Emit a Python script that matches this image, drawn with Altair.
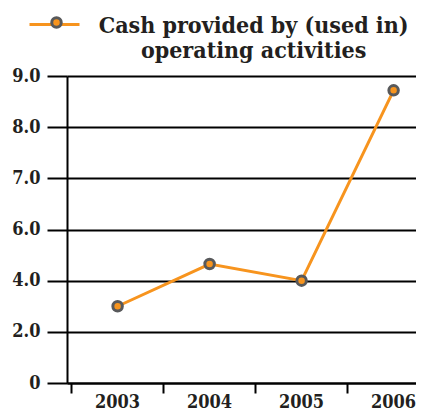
import altair as alt
import pandas as pd

years = ["2003", "2004", "2005", "2006"]
values = [3.0, 4.65, 4.0, 8.72]
series_name = "Cash provided by (used in) operating activities"
y_ticks = [0, 2, 4, 6, 7, 8, 9]

df = pd.DataFrame({"year": years, "value": values,
                   "series": [series_name] * 4, "series2": [series_name] * 4})

H = 307
STEP = 92
PO = 0.05
W = STEP * (len(years) + 2 * PO)
n = len(y_ticks) - 1
y_range = [H - H * i / n for i in range(len(y_ticks))]

ORANGE = "#F7941E"
GRAY = "#58595B"
FONT = "'DejaVu Serif Condensed', 'DejaVu Serif'"
INK = "#231F20"

x = alt.X("year:N", title=None,
          scale=alt.Scale(type="band", paddingInner=0, paddingOuter=PO),
          axis=alt.Axis(bandPosition=0, labelAngle=0,
                        tickSize=10, tickWidth=2, tickColor="black",
                        domainColor="black", domainWidth=2,
                        labelFont=FONT, labelFontWeight="bold", labelFontSize=18,
                        labelColor=INK, labelPadding=0, grid=False))
y = alt.Y("value:Q", title=None,
          scale=alt.Scale(domain=y_ticks, range=y_range),
          axis=alt.Axis(values=y_ticks,
                        labelExpr="datum.value == 0 ? '0' : format(datum.value, '.1f')",
                        tickSize=20, tickWidth=2, tickColor="black",
                        domainColor="black", domainWidth=2,
                        grid=True, gridColor="black", gridWidth=2,
                        labelFont=FONT, labelFontWeight="bold", labelFontSize=18,
                        labelColor=INK, labelPadding=7))

line = alt.Chart(df).mark_line(strokeWidth=3).encode(
    x=x, y=y,
    color=alt.Color("series:N", scale=alt.Scale(range=[ORANGE]),
                    legend=alt.Legend(orient="none", legendX=-39, legendY=-78,
                                      symbolType="stroke", symbolSize=2500,
                                      symbolStrokeWidth=3, labelExpr="''",
                                      title=None, padding=0)),
)
points = alt.Chart(df).mark_point(filled=False, size=90, strokeWidth=3, opacity=1).encode(
    x=x, y=y,
    fill=alt.Fill("series2:N", scale=alt.Scale(range=[ORANGE]),
                  legend=alt.Legend(orient="none", legendX=-17, legendY=-60,
                                    symbolType="circle", symbolSize=90,
                                    symbolStrokeColor=GRAY, symbolStrokeWidth=3,
                                    symbolOpacity=1, symbolFillColor=ORANGE,
                                    labelExpr="''", title=None, padding=0)),
    stroke=alt.value(GRAY),
)

chart = alt.layer(line, points).resolve_scale(color="independent", fill="independent").properties(
    width=W, height=H,
    autosize=alt.AutoSizeParams(type="none"),
    padding={"left": 59, "top": 68, "right": 408 - 59 - W, "bottom": 25},
    title=alt.TitleParams(["Cash provided by (used in)", "operating activities"],
                          anchor="middle", font=FONT, fontWeight="bold",
                          fontSize=23, color=INK, lineHeight=25, offset=-65, dx=-2),
).configure_view(stroke=None).configure(background="white")

chart.save("out.html", embed_options={"renderer": "svg", "actions": False})
